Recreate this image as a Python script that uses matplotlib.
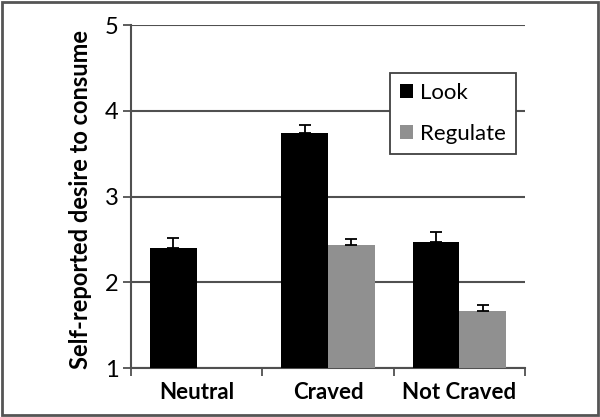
import matplotlib
matplotlib.use("Agg")
import matplotlib.pyplot as plt
import numpy as np
from matplotlib.patches import Rectangle

categories = ["Neutral", "Craved", "Not Craved"]
look = [2.40, 3.74, 2.47]
look_err = [0.12, 0.09, 0.12]
regulate = [np.nan, 2.43, 1.66]
regulate_err = [np.nan, 0.07, 0.07]
yticks = [1, 2, 3, 4, 5]

plt.rcParams['font.family'] = ['Lato', 'DejaVu Sans']

fig = plt.figure(figsize=(6, 4.17), dpi=100)
ax = fig.add_axes([0.2183, 0.1175, 0.6567, 0.8225])

x = np.arange(len(categories))
w = 0.355
grid_c = "#505050"

ax.bar(x - w/2, np.array(look) - 1, w, bottom=1, color="black", label="Look", zorder=3)
ax.bar(x + w/2, np.array(regulate) - 1, w, bottom=1, color="#909090", label="Regulate", zorder=3)
ax.errorbar(x - w/2, look, yerr=[np.zeros(3), look_err], fmt="none", ecolor="black",
            elinewidth=1.3, capsize=4, capthick=1.3, zorder=4)
ax.errorbar(x + w/2, regulate, yerr=[np.zeros(3), regulate_err], fmt="none", ecolor="black",
            elinewidth=1.3, capsize=4, capthick=1.3, zorder=4)

ax.set_xlim(-0.5, 2.5)
ax.set_ylim(1, 5)
ax.set_yticks(yticks)
ax.set_yticklabels([str(t) for t in yticks], fontsize=17)
ax.yaxis.grid(True, color=grid_c, linewidth=1.5, zorder=0)
ax.set_axisbelow(True)

ax.set_xticks(x)
ax.set_xticklabels(categories, fontsize=16, fontweight="bold")
ax.tick_params(axis="x", length=0, pad=10)
ax.set_xticks([-0.5, 0.5, 1.5, 2.5], minor=True)
ax.tick_params(axis="x", which="minor", length=6, width=1.3, color=grid_c, direction="out")
ax.tick_params(axis="y", length=6, width=1.3, color=grid_c, direction="out", pad=3)

for s in ["top", "right"]:
    ax.spines[s].set_visible(False)
for s in ["left", "bottom"]:
    ax.spines[s].set_color(grid_c)
    ax.spines[s].set_linewidth(1.5)

ax.set_ylabel("Self-reported desire to consume", fontsize=17, fontweight="bold")
ax.yaxis.set_label_coords(-0.10, 0.49)

leg = ax.legend(loc="upper left", bbox_to_anchor=(0.657, 0.86), fontsize=16, frameon=True,
                fancybox=False, edgecolor="#404040", handlelength=0.6, handleheight=0.6,
                handletextpad=0.32, labelspacing=0.95, borderpad=0.45, borderaxespad=0)
leg.get_frame().set_linewidth(1.3)
leg.get_frame().set_alpha(1)

fig.patches.append(Rectangle((0.003, 0.004), 0.994, 0.992, transform=fig.transFigure,
                             fill=False, edgecolor="#555555", linewidth=2))

fig.savefig("out.png", dpi=100)
